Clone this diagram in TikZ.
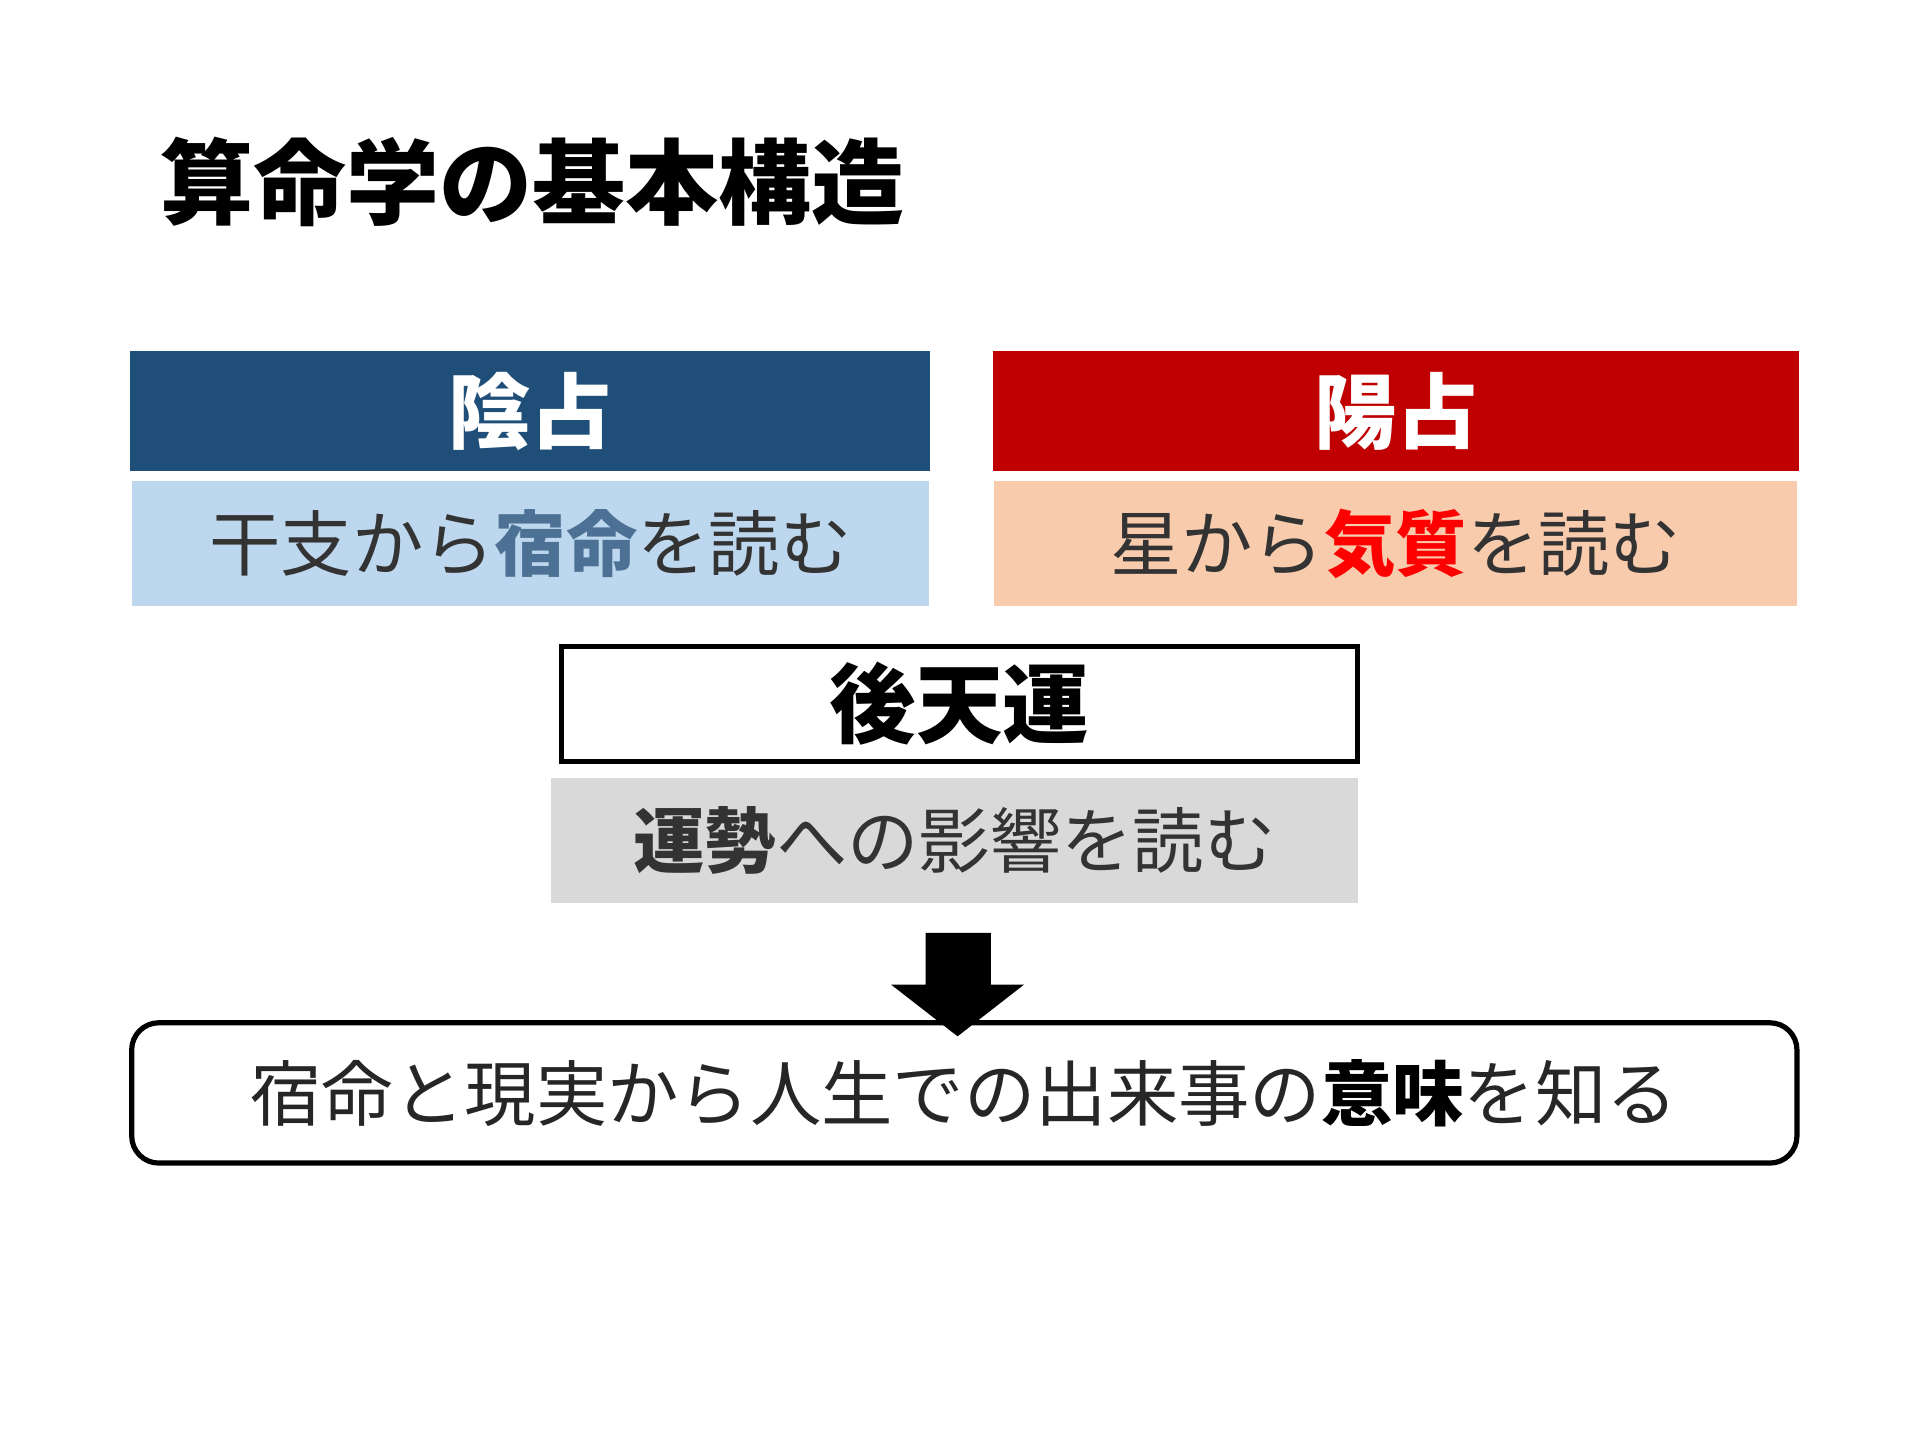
\documentclass[tikz,border=0pt]{standalone}
\usepackage{fontspec}
\newfontfamily\cjk{Noto Sans CJK JP}
\usetikzlibrary{positioning}
\definecolor{inblue}{RGB}{31,78,121}
\definecolor{inlight}{RGB}{189,215,238}
\definecolor{yored}{RGB}{192,0,0}
\definecolor{yopeach}{RGB}{248,203,173}
\definecolor{kagray}{RGB}{217,217,217}
\begin{document}
\begin{tikzpicture}[x=1cm,y=1cm]
        % Styles
        \tikzset{head/.style={minimum width=6.5cm,minimum height=0.98cm,inner sep=0pt,font=\cjk\bfseries\fontsize{19}{19}\selectfont},
                 body/.style={minimum width=6.47cm,minimum height=1.01cm,inner sep=0pt,font=\cjk\fontsize{16.5}{16.5}\selectfont,text=black!80}}
        \useasboundingbox (0,0) rectangle (15.6,-11.7);
        %title
        \node[anchor=west,font=\cjk\bfseries\fontsize{21.5}{21.5}\selectfont] (title) at (1.18,-1.48) {算命学の基本構造};
        %left column
        \node[head,fill=inblue,text=white] (inhead) at (4.31,-3.34) {陰占};
        \node[body,fill=inlight] (inbody) at (4.31,-4.415) {干支から{\bfseries\color{inblue!80}宿命}を読む};
        %right column
        \node[head,fill=yored,text=white,minimum width=6.55cm] (yohead) at (11.345,-3.34) {陽占};
        \node[body,fill=yopeach,minimum width=6.52cm] (yobody) at (11.34,-4.415) {星から{\bfseries\color{red}気質}を読む};
        %middle
        \node[head,draw=black,line width=1.2pt,minimum width=6.47cm,minimum height=0.94cm,font=\cjk\bfseries\fontsize{20}{20}\selectfont] (kahead) at (7.795,-5.72) {後天運};
        \node[body,fill=kagray,minimum width=6.55cm] (kabody) at (7.755,-6.83) {{\bfseries 運勢}への影響を読む};
        %result
        \node[draw=black,line width=1.2pt,rounded corners=0.22cm,minimum width=13.53cm,minimum height=1.14cm,font=\cjk\fontsize{16.5}{16.5}\selectfont,text=black!85] (result) at (7.835,-8.88) {宿命と現実から人生での出来事の{\bfseries\color{black}意味}を知る};
        %arrow
        \coordinate (tip) at (7.78,-8.42);
        \fill[black] (tip) -- ++(-0.54,0.42) -- ++(0.28,0) -- ++(0,0.42) -- ++(0.53,0) -- ++(0,-0.42) -- ++(0.27,0) -- cycle;
\end{tikzpicture}
\end{document}
